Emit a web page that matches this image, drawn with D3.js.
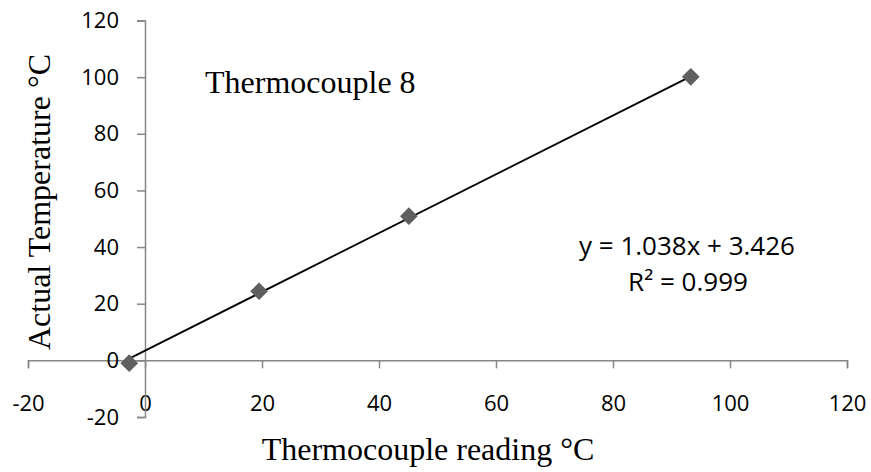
<!DOCTYPE html>
<html>
<head>
<meta charset="utf-8">
<script src="https://cdn.jsdelivr.net/npm/d3@7"></script>
<style>
  body { margin: 0; background: #fff; }
  svg { display: block; }
</style>
</head>
<body>
<div id="chart"></div>
<script>
// Data
var readings = [-2.7, 19.5, 45.1, 93.3];
var actual = [-1.0, 24.4, 50.9, 100.1];
var xTicks = [-20, 0, 20, 40, 60, 80, 100, 120];
var yTicks = [-20, 0, 20, 40, 60, 80, 100, 120];
var slope = 1.038, intercept = 3.426;
var equationText = "y = 1.038x + 3.426";
var r2Text = "R\u00b2 = 0.999";

var width = 871, height = 472;
var svg = d3.select("#chart").append("svg")
    .attr("width", width)
    .attr("height", height);

var x = d3.scaleLinear().domain([-20, 120]).range([28, 847]);
var y = d3.scaleLinear().domain([-20, 120]).range([417, 20.5]);

var axisColor = "#868686";
var numFont = "'Open Sans', 'Noto Sans', sans-serif";
var serif = "'Liberation Serif', 'DejaVu Serif', serif";
var minus = function (d) { return d < 0 ? "-" + Math.abs(d) : d; };

// x axis along y = 0
var xAxis = svg.append("g")
    .attr("transform", "translate(0," + y(0) + ")")
    .call(d3.axisBottom(x).tickValues(xTicks).tickSize(8).tickPadding(27).tickFormat(minus));
// y axis along x = 0
var yAxis = svg.append("g")
    .attr("transform", "translate(" + x(0) + ",0)")
    .call(d3.axisLeft(y).tickValues(yTicks).tickSize(8).tickPadding(18).tickFormat(minus));

[xAxis, yAxis].forEach(function (g) {
    g.select(".domain").attr("stroke", axisColor).attr("stroke-width", 1.5);
    g.selectAll(".tick line").attr("stroke", axisColor).attr("stroke-width", 1.5);
    g.selectAll(".tick text")
        .attr("fill", "#000")
        .style("font-family", numFont)
        .style("font-size", "22px");
});

// trendline over the data range
var xMin = d3.min(readings), xMax = d3.max(readings);
svg.append("line")
    .attr("x1", x(xMin)).attr("y1", y(slope * xMin + intercept))
    .attr("x2", x(xMax)).attr("y2", y(slope * xMax + intercept))
    .attr("stroke", "#000")
    .attr("stroke-width", 1.8);

// markers
svg.selectAll(".pt")
    .data(readings.map(function (r, i) { return [r, actual[i]]; }))
    .enter().append("path")
    .attr("class", "pt")
    .attr("d", d3.symbol().type(d3.symbolDiamond2).size(200))
    .attr("transform", function (d) { return "translate(" + x(d[0]) + "," + y(d[1]) + ")"; })
    .attr("fill", "#5f5f5f");

// labels
svg.append("text")
    .attr("x", 205).attr("y", 93)
    .style("font-family", serif).style("font-size", "32px")
    .text("Thermocouple 8");

svg.append("text")
    .attr("x", 687).attr("y", 255)
    .attr("text-anchor", "middle")
    .style("font-family", numFont).style("font-size", "26px")
    .text(equationText);
svg.append("text")
    .attr("x", 688).attr("y", 291)
    .attr("text-anchor", "middle")
    .style("font-family", numFont).style("font-size", "26px")
    .text(r2Text);

svg.append("text")
    .attr("x", 428).attr("y", 460)
    .attr("text-anchor", "middle")
    .style("font-family", serif).style("font-size", "32px")
    .text("Thermocouple reading \u00b0C");

svg.append("text")
    .attr("transform", "translate(50,202) rotate(-90)")
    .attr("text-anchor", "middle")
    .style("font-family", serif).style("font-size", "32px")
    .text("Actual Temperature \u00b0C");
</script>
</body>
</html>
